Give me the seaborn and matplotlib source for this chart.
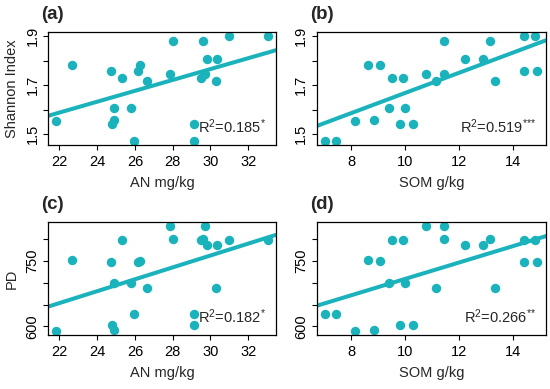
import numpy as np
import pandas as pd
import seaborn as sns
from matplotlib import pyplot as plt

# 24 samples, values
an = [25.96, 29.12, 21.84, 24.90, 22.67, 26.28, 24.90, 25.78, 25.29, 29.48, 24.81, 29.12,
      27.88, 29.73, 26.64, 30.28, 28.00, 29.62, 29.82, 30.37, 31.00, 33.03, 24.75, 26.14]
som = [7.03, 7.44, 8.13, 8.85, 8.63, 9.06, 9.41, 9.98, 9.50, 9.91, 9.79, 10.29,
       10.75, 11.44, 11.15, 13.34, 11.44, 13.15, 12.23, 12.88, 14.40, 14.81, 14.40, 14.90]
shannon = [1.473, 1.473, 1.554, 1.557, 1.781, 1.781, 1.608, 1.608, 1.730, 1.730, 1.541, 1.541,
           1.747, 1.747, 1.717, 1.717, 1.880, 1.880, 1.805, 1.805, 1.900, 1.900, 1.758, 1.758]
pd_vals = [629, 629, 590, 592, 752, 751, 699, 699, 799, 799, 604, 604,
           831, 831, 689, 689, 802, 801, 786, 786, 799, 799, 748, 748]

panel_labels = ['(a)', '(b)', '(c)', '(d)']
r2_labels = ['0.185', '0.519', '0.182', '0.266']
r2_stars = [1, 3, 1, 2]
x_labels = ['AN mg/kg', 'SOM g/kg', 'AN mg/kg', 'SOM g/kg']
y_labels = ['Shannon Index', '', 'PD', '']

df = pd.DataFrame({'AN': an, 'SOM': som, 'Shannon': shannon, 'PD': pd_vals})

sns.set_style('white')
plt.rcParams['font.family'] = ['Liberation Sans', 'DejaVu Sans']
plt.rcParams['mathtext.fontset'] = 'custom'
plt.rcParams['mathtext.rm'] = 'Liberation Sans'
plt.rcParams['mathtext.it'] = 'Liberation Sans'

col = '#1AB3BC'
fig = plt.figure(figsize=(5.5, 3.89), dpi=100)

boxes = [[0.0873, 0.6272, 0.4145, 0.2905],
         [0.5758, 0.6272, 0.4169, 0.2905],
         [0.0873, 0.1388, 0.4145, 0.2913],
         [0.5758, 0.1388, 0.4169, 0.2913]]
xcols = ['AN', 'SOM', 'AN', 'SOM']
ycols = ['Shannon', 'Shannon', 'PD', 'PD']

for i in range(4):
    ax = fig.add_axes(boxes[i])
    xv = df[xcols[i]]
    yv = df[ycols[i]]
    # R style 4% padding
    xr = xv.max() - xv.min()
    yr = yv.max() - yv.min()
    xlim = (xv.min() - 0.04 * xr, xv.max() + 0.04 * xr)
    ylim = (yv.min() - 0.04 * yr, yv.max() + 0.04 * yr)
    ax.set_xlim(xlim)
    ax.set_ylim(ylim)
    sns.regplot(x=xcols[i], y=ycols[i], data=df, ax=ax, ci=None, truncate=False,
                color=col, scatter_kws={'s': 46, 'alpha': 1, 'linewidths': 0},
                line_kws={'lw': 2.9})
    ax.set_xlim(xlim)
    ax.set_ylim(ylim)

    if ycols[i] == 'Shannon':
        ax.set_yticks([1.5, 1.6, 1.7, 1.8, 1.9])
        ax.set_yticklabels(['1.5', '', '1.7', '', '1.9'])
    else:
        ax.set_yticks([600, 650, 700, 750, 800])
        ax.set_yticklabels(['600', '', '', '750', ''])
    if xcols[i] == 'AN':
        ax.set_xticks([22, 24, 26, 28, 30, 32])
    else:
        ax.set_xticks([8, 10, 12, 14])

    for lab in ax.get_yticklabels():
        lab.set_rotation(90)
        lab.set_va('center')
    ax.tick_params(axis='both', direction='out', length=3.6, width=0.8, labelsize=10.5,
                   left=True, bottom=True, colors='black', pad=3.5)
    ax.tick_params(axis='y', pad=2.5)
    for s in ax.spines.values():
        s.set_color('black')
        s.set_linewidth(0.9)

    ax.set_xlabel(x_labels[i], fontsize=10.5, labelpad=5)
    ax.set_ylabel(y_labels[i], fontsize=10.5, labelpad=5)
    stars = '{*}' * r2_stars[i]
    ax.text(0.955, 0.08, 'R$^{2}$=' + r2_labels[i] + '$^{' + stars + '}$',
            transform=ax.transAxes, ha='right', va='bottom', fontsize=10.5)
    ax.text(-0.03, 1.08, panel_labels[i], transform=ax.transAxes, ha='left', va='bottom',
            fontsize=13.5, fontweight='bold')

fig.savefig('out.png', dpi=100)
